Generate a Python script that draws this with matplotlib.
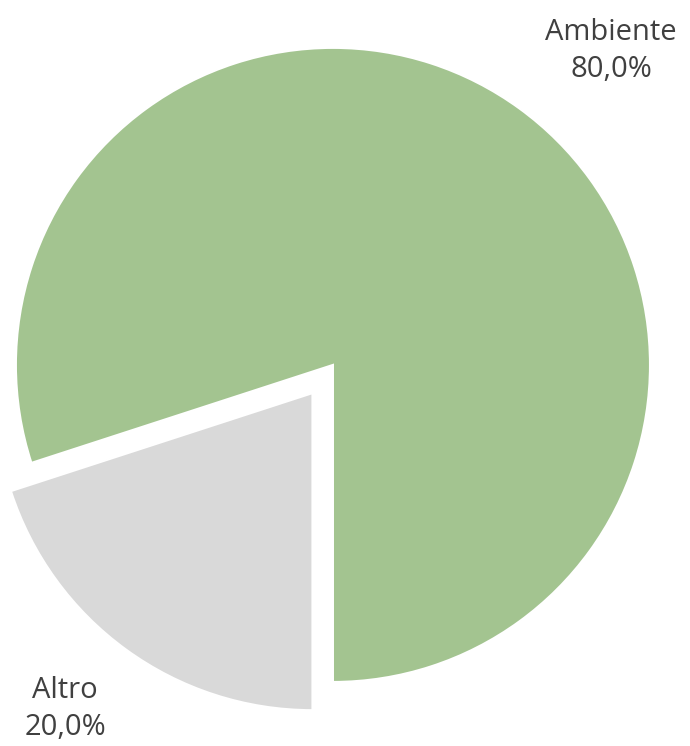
import matplotlib.pyplot as plt

labels = ['Ambiente', 'Altro']
values = [80.0, 20.0]
colors = ['#A3C490', '#D9D9D9']
explode = [0, 0.11]

fig = plt.figure(figsize=(6.9, 7.46), dpi=100)
ax = fig.add_axes([0, 0, 1, 1])

wedges, _ = ax.pie(values, colors=colors, explode=explode, startangle=270,
                   counterclock=True, radius=1.0,
                   wedgeprops=dict(edgecolor='white', linewidth=1.5))

ax.set_xlim(-1.050, 1.126)
ax.set_ylim(-1.202, 1.151)
ax.set_aspect('equal')
ax.axis('off')

txt = dict(fontsize=21, color='#404040', ha='center', va='center',
           family=['Open Sans', 'DejaVu Sans'], linespacing=1.35)
ax.text(0.877, 0.99, '%s\n%s%%' % (labels[0], f'{values[0]:.1f}'.replace('.', ',')), **txt)
ax.text(-0.845, -1.085, '%s\n%s%%' % (labels[1], f'{values[1]:.1f}'.replace('.', ',')), **txt)

fig.savefig('out.png', dpi=100, facecolor='white')
